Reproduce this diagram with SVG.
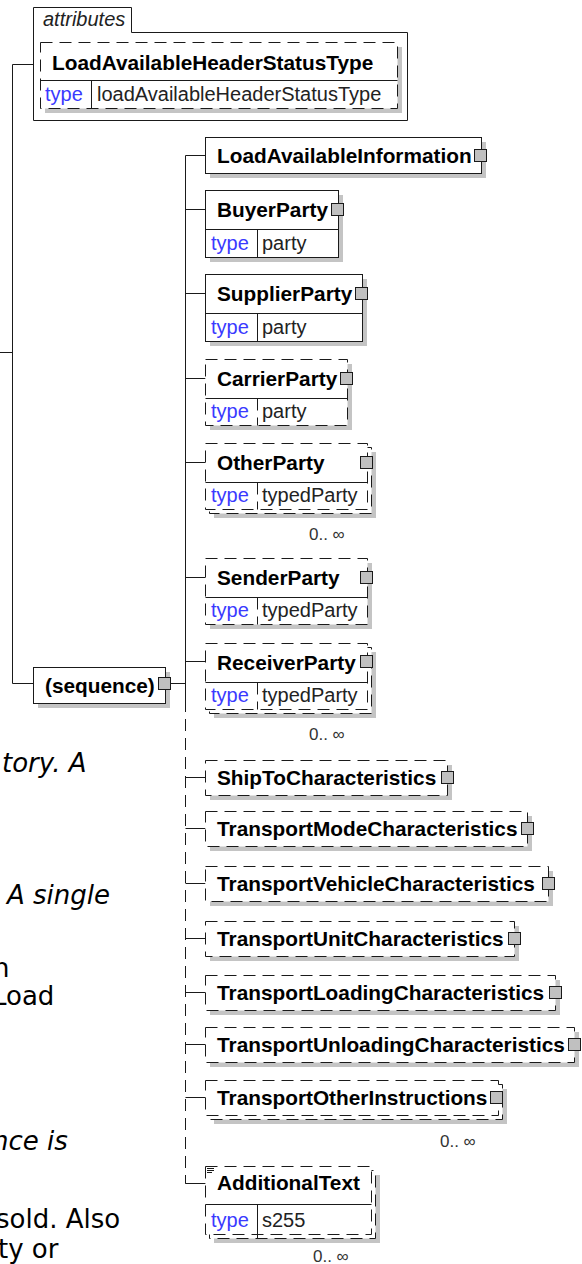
<svg xmlns="http://www.w3.org/2000/svg" width="582" height="1264" viewBox="0 0 582 1264">
<style>
.sh{fill:#c4c4c4}
.bx{fill:#fff;stroke:#1a1a1a;stroke-width:1}
.d{stroke-dasharray:12 7}
.ln{stroke:#1a1a1a;stroke-width:1;fill:none}
.nm{font-family:"Liberation Sans",Arial,sans-serif;font-weight:bold;font-size:20.8px;fill:#000}
.tp{font-family:"Liberation Sans",Arial,sans-serif;font-size:20px;fill:#3a3aff}
.tv{font-family:"Liberation Sans",Arial,sans-serif;font-size:20px;fill:#222}
.sq{fill:#c0c0c0;stroke:#1a1a1a;stroke-width:1}
.oc{font-family:"Liberation Sans",Arial,sans-serif;font-size:17px;fill:#333}
.bg{font-family:"DejaVu Sans",Verdana,sans-serif;font-size:26px;fill:#000}
.it{font-style:italic}
</style>
<rect width="582" height="1264" fill="#fff"/>

<!-- background document text -->
<g id="bgtext">
<text class="bg it" x="2" y="772">tory. A</text>
<text class="bg it" x="7" y="904">A single</text>
<text class="bg" x="-7" y="977">n</text>
<text class="bg" x="-8" y="1005">Load</text>
<text class="bg it" x="-8" y="1150">nce is</text>
<text class="bg" x="-4" y="1228">sold. Also</text>
<text class="bg" x="-2" y="1258">ty or</text>
</g>

<g id="connectors">
<path class="ln" d="M0,352.5 H12.5 M12.5,64.5 V683.5 M12.5,64.5 H33.5 M12.5,683.5 H33.5"/>
<path class="ln" d="M171,683.5 H185.5 M185.5,155.5 V700"/>
<path class="ln d" d="M185.5,700 V1183.5 H205.5"/>
<path class="ln" d="M185.5,155.5 H205.5 M185.5,209.5 H205.5 M185.5,293.5 H205.5 M185.5,378.5 H205.5 M185.5,462.5 H205.5 M185.5,577.5 H205.5 M185.5,661.5 H205.5 M185.5,777.5 H205.5 M185.5,828.5 H205.5 M185.5,883.5 H205.5 M185.5,938.5 H205.5 M185.5,992.5 H205.5 M185.5,1044.5 H205.5 M185.5,1097.5 H205.5 M185.5,1183.5 H205.5"/>
</g>

<g id="attributes">
<path class="bx" d="M33.5,7.5 H131.5 V32.5 H407.5 V120.5 H33.5 Z"/>
<text x="43" y="26" font-family="Liberation Sans,Arial,sans-serif" font-style="italic" font-size="20px" fill="#222">attributes</text>
<rect class="sh" x="45" y="47" width="357" height="66"/>
<rect class="bx d" x="40.5" y="42.5" width="357" height="66"/>
<path class="ln" d="M40.5,80.5 H397.5 M91.5,80.5 V108.5"/>
<text class="nm" x="52" y="70">LoadAvailableHeaderStatusType</text>
<text class="tp" x="45" y="101">type</text>
<text class="tv" x="97" y="101">loadAvailableHeaderStatusType</text>
</g>

<g id="sequence">
<rect class="sh" x="38" y="672" width="132" height="36"/>
<rect class="bx" x="33.5" y="667.5" width="132" height="36"/>
<text class="nm" x="45" y="693">(sequence)</text>
<rect class="sq" x="158.5" y="677.5" width="12" height="12"/>
</g>

<g id="LoadAvailableInformation">
<rect class="sh" x="210" y="142" width="276" height="36"/>
<rect class="bx" x="205.5" y="137.5" width="276" height="36"/>
<text class="nm" x="217" y="163">LoadAvailableInformation</text>
<rect class="sq" x="474.5" y="149.5" width="12" height="12"/>
</g>

<g id="BuyerParty">
<rect class="sh" x="210" y="195" width="133" height="67"/>
<rect class="bx" x="205.5" y="190.5" width="133" height="67"/>
<path class="ln" d="M205.5,229.5 H338.5 M257.5,229.5 V257.5"/>
<text class="nm" x="217" y="217">BuyerParty</text>
<text class="tp" x="211" y="250">type</text>
<text class="tv" x="262" y="250">party</text>
<rect class="sq" x="331.5" y="203.5" width="12" height="12"/>
</g>

<g id="SupplierParty">
<rect class="sh" x="210" y="279" width="157" height="67"/>
<rect class="bx" x="205.5" y="274.5" width="157" height="67"/>
<path class="ln" d="M205.5,313.5 H362.5 M257.5,313.5 V341.5"/>
<text class="nm" x="217" y="301">SupplierParty</text>
<text class="tp" x="211" y="334">type</text>
<text class="tv" x="262" y="334">party</text>
<rect class="sq" x="355.5" y="287.5" width="12" height="12"/>
</g>

<g id="CarrierParty">
<rect class="sh" x="210" y="364" width="142" height="66"/>
<rect class="bx d" x="205.5" y="359.5" width="142" height="66"/>
<path class="ln" d="M205.5,398.5 H347.5"/>
<path class="ln d" d="M257.5,398.5 V425.5"/>
<text class="nm" x="217" y="386">CarrierParty</text>
<text class="tp" x="211" y="418">type</text>
<text class="tv" x="262" y="418">party</text>
<rect class="sq" x="340.5" y="372.5" width="12" height="12"/>
</g>

<g id="OtherParty">
<rect class="sh" x="214" y="452" width="162" height="66"/>
<rect class="bx d" x="209.5" y="447.5" width="162" height="66"/>
<rect class="bx d" x="205.5" y="443.5" width="162" height="66"/>
<path class="ln" d="M205.5,482.5 H367.5"/>
<path class="ln d" d="M257.5,482.5 V509.5"/>
<text class="nm" x="217" y="470">OtherParty</text>
<text class="tp" x="211" y="502">type</text>
<text class="tv" x="262" y="502">typedParty</text>
<rect class="sq" x="360.5" y="456.5" width="12" height="12"/>
<text class="oc" x="309" y="540">0.. ∞</text>
</g>

<g id="SenderParty">
<rect class="sh" x="210" y="563" width="162" height="66"/>
<rect class="bx d" x="205.5" y="558.5" width="162" height="66"/>
<path class="ln" d="M205.5,597.5 H367.5"/>
<path class="ln d" d="M257.5,597.5 V624.5"/>
<text class="nm" x="217" y="585">SenderParty</text>
<text class="tp" x="211" y="617">type</text>
<text class="tv" x="262" y="617">typedParty</text>
<rect class="sq" x="360.5" y="571.5" width="12" height="12"/>
</g>

<g id="ReceiverParty">
<rect class="sh" x="214" y="652" width="162" height="66"/>
<rect class="bx d" x="209.5" y="647.5" width="162" height="66"/>
<rect class="bx d" x="205.5" y="643.5" width="162" height="66"/>
<path class="ln" d="M205.5,682.5 H367.5"/>
<path class="ln d" d="M257.5,682.5 V709.5"/>
<text class="nm" x="217" y="670">ReceiverParty</text>
<text class="tp" x="211" y="702">type</text>
<text class="tv" x="262" y="702">typedParty</text>
<rect class="sq" x="360.5" y="655.5" width="12" height="12"/>
<text class="oc" x="309" y="740">0.. ∞</text>
</g>

<g id="ShipToCharacteristics">
<rect class="sh" x="210" y="765" width="242" height="35"/>
<rect class="bx d" x="205.5" y="760.5" width="242" height="35"/>
<text class="nm" x="217" y="785">ShipToCharacteristics</text>
<rect class="sq" x="441.5" y="771.5" width="12" height="12"/>
</g>

<g id="TransportModeCharacteristics">
<rect class="sh" x="210" y="816" width="322" height="35"/>
<rect class="bx d" x="205.5" y="811.5" width="322" height="35"/>
<text class="nm" x="217" y="836">TransportModeCharacteristics</text>
<rect class="sq" x="521.5" y="822.5" width="12" height="12"/>
</g>

<g id="TransportVehicleCharacteristics">
<rect class="sh" x="210" y="871" width="343" height="35"/>
<rect class="bx d" x="205.5" y="866.5" width="343" height="35"/>
<text class="nm" x="217" y="891">TransportVehicleCharacteristics</text>
<rect class="sq" x="542.5" y="877.5" width="12" height="12"/>
</g>

<g id="TransportUnitCharacteristics">
<rect class="sh" x="210" y="926" width="309" height="35"/>
<rect class="bx d" x="205.5" y="921.5" width="309" height="35"/>
<text class="nm" x="217" y="946">TransportUnitCharacteristics</text>
<rect class="sq" x="508.5" y="932.5" width="12" height="12"/>
</g>

<g id="TransportLoadingCharacteristics">
<rect class="sh" x="210" y="980" width="350" height="35"/>
<rect class="bx d" x="205.5" y="975.5" width="350" height="35"/>
<text class="nm" x="217" y="1000">TransportLoadingCharacteristics</text>
<rect class="sq" x="549.5" y="986.5" width="12" height="12"/>
</g>

<g id="TransportUnloadingCharacteristics">
<rect class="sh" x="210" y="1032" width="369" height="35"/>
<rect class="bx d" x="205.5" y="1027.5" width="369" height="35"/>
<text class="nm" x="217" y="1052">TransportUnloadingCharacteristics</text>
<rect class="sq" x="568.5" y="1038.5" width="12" height="12"/>
</g>

<g id="TransportOtherInstructions">
<rect class="sh" x="214" y="1089" width="293" height="35"/>
<rect class="bx d" x="209.5" y="1084.5" width="293" height="35"/>
<rect class="bx d" x="205.5" y="1080.5" width="293" height="35"/>
<text class="nm" x="217" y="1105">TransportOtherInstructions</text>
<rect class="sq" x="490.5" y="1091.5" width="12" height="12"/>
<text class="oc" x="440" y="1147">0.. ∞</text>
</g>

<g id="AdditionalText">
<rect class="sh" x="214" y="1175" width="166" height="68"/>
<rect class="bx d" x="209.5" y="1170.5" width="166" height="68"/>
<rect class="bx d" x="205.5" y="1166.5" width="166" height="68"/>
<path class="ln" d="M205.5,1204.5 H371.5 M257.5,1204.5 V1238"/>
<path class="ln" d="M207,1168.5 H214 M207,1170.5 H214 M207,1172.5 H212"/>
<text class="nm" x="217" y="1190">AdditionalText</text>
<text class="tp" x="211" y="1227">type</text>
<text class="tv" x="262" y="1227">s255</text>
<text class="oc" x="313" y="1262">0.. ∞</text>
</g>
</svg>
